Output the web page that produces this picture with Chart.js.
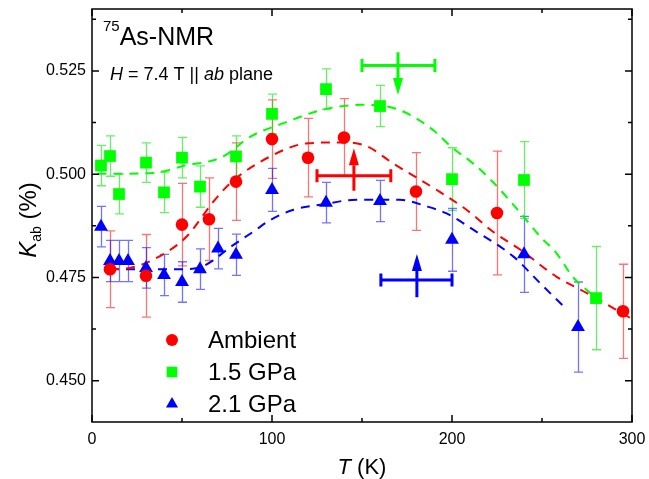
<!DOCTYPE html>
<html>
<head>
<meta charset="utf-8">
<script src="https://cdn.jsdelivr.net/npm/chart.js@4.4.0/dist/chart.umd.min.js"></script>
<style>
  html, body { margin: 0; padding: 0; background: #fff; }
  #wrap { width: 649px; height: 479px; }
</style>
</head>
<body>
<div id="wrap"><canvas id="kChart" width="649" height="479"></canvas></div>
<script>
// Ambient pressure
const ambT = [10, 30, 50, 65, 80, 100, 120, 140, 180, 225, 295];
const ambK = [0.4770, 0.4754, 0.4878, 0.4891, 0.4982, 0.5085, 0.5040, 0.5089, 0.4958, 0.4906, 0.4668];
const ambErr = [0.0093, 0.0100, 0.0100, 0.0100, 0.0094, 0.0095, 0.0095, 0.0094, 0.0094, 0.0150, 0.0114];

// 1.5 GPa
const p15T = [5, 10, 15, 30, 40, 50, 60, 80, 100, 130, 160, 200, 240, 280];
const p15K = [0.5021, 0.5044, 0.4952, 0.5028, 0.4956, 0.5040, 0.4970, 0.5043, 0.5146, 0.5206, 0.5165, 0.4988, 0.4986, 0.4700];
const p15Err = [0.0049, 0.0049, 0.0048, 0.0048, 0.0049, 0.0049, 0.0050, 0.0050, 0.0048, 0.0049, 0.0050, 0.0076, 0.0093, 0.0125];

// 2.1 GPa
const p21T = [5, 10, 15, 20, 30, 40, 50, 60, 70, 80, 100, 130, 160, 200, 240, 270];
const p21K = [0.4873, 0.4790, 0.4790, 0.4790, 0.4773, 0.4756, 0.4739, 0.4770, 0.4820, 0.4805, 0.4962, 0.4931, 0.4935, 0.4841, 0.4806, 0.4630];
const p21Err = [0.0049, 0.0050, 0.0050, 0.0050, 0.0049, 0.0050, 0.0049, 0.0049, 0.0049, 0.0050, 0.0052, 0.0049, 0.0050, 0.0076, 0.0092, 0.0109];

// dashed guide curves
const ambCurveT = [10, 21, 41, 53, 67, 77, 99, 120, 140, 153, 167, 190, 208, 223, 238, 258, 275, 299];
const ambCurveK = [0.4770, 0.4773, 0.4810, 0.4851, 0.4931, 0.4979, 0.5043, 0.5075, 0.5077, 0.5067, 0.5027, 0.4966, 0.4914, 0.4860, 0.4817, 0.4752, 0.4712, 0.4652];
const p15CurveT = [3, 30, 42, 53, 62, 73, 88, 106, 128, 150, 164, 177, 190, 200, 212, 223, 238, 249, 258, 267, 279];
const p15CurveK = [0.5001, 0.5002, 0.5009, 0.5023, 0.5028, 0.5043, 0.5091, 0.5123, 0.5156, 0.5168, 0.5164, 0.5143, 0.5105, 0.5065, 0.5025, 0.4980, 0.4906, 0.4849, 0.4809, 0.4752, 0.4704];
const p21CurveT = [10, 30, 51, 62, 78, 90, 99, 112, 127, 147, 171, 186, 197, 212, 234, 249, 262];
const p21CurveK = [0.4770, 0.4770, 0.4770, 0.4778, 0.4827, 0.4862, 0.4889, 0.4914, 0.4926, 0.4938, 0.4938, 0.4922, 0.4905, 0.4865, 0.4801, 0.4736, 0.4680];

// arrows marking the maxima (green, red, blue)
const arrowT = [170, 145.5, 180.5];
const arrowLo = [150, 125, 160.5];
const arrowHi = [190.5, 166, 200];
const arrowK = [0.5263, 0.4996, 0.4744];
const arrowBase = [0.5295, 0.4960, 0.4702];
const arrowTip = [0.5192, 0.5063, 0.4807];

// axis ticks
const xMajor = [0, 100, 200, 300];
const xMinor = [50, 150, 250];
const yMajor = [0.450, 0.475, 0.500, 0.525];
const yMinor = [0.4625, 0.4875, 0.5125, 0.5375];

const legendLabels = ["Ambient", "1.5 GPa", "2.1 GPa"];

const RED = "#ff0000", GREEN = "#00ff00", BLUE = "#0000ff";
const FONT = "'Liberation Sans', Arial, sans-serif";

const pts = (ts, ks) => ts.map((t, i) => ({ x: t, y: ks[i] }));

const series = [
  { t: ambT, k: ambK, err: ambErr, color: "rgba(255,0,0,0.55)" },
  { t: p15T, k: p15K, err: p15Err, color: "rgba(0,230,0,0.6)" },
  { t: p21T, k: p21K, err: p21Err, color: "rgba(0,0,255,0.55)" },
];

const errorBars = {
  id: "errorBars",
  beforeDatasetsDraw(chart) {
    const { ctx, scales: { x, y } } = chart;
    series.forEach(s => {
      ctx.save();
      ctx.strokeStyle = s.color;
      ctx.lineWidth = 1.3;
      s.t.forEach((t, i) => {
        const px = Math.round(x.getPixelForValue(t)) + 0.5;
        const top = y.getPixelForValue(s.k[i] + s.err[i]);
        const bot = y.getPixelForValue(s.k[i] - s.err[i]);
        ctx.beginPath();
        ctx.moveTo(px, top); ctx.lineTo(px, bot);
        ctx.moveTo(px - 4.5, top); ctx.lineTo(px + 4.5, top);
        ctx.moveTo(px - 4.5, bot); ctx.lineTo(px + 4.5, bot);
        ctx.stroke();
      });
      ctx.restore();
    });
  }
};

const arrows = {
  id: "arrows",
  afterDatasetsDraw(chart) {
    const { ctx, scales: { x, y } } = chart;
    const colors = [GREEN, RED, BLUE];
    arrowT.forEach((t, i) => {
      const cx = x.getPixelForValue(t);
      const x0 = x.getPixelForValue(arrowLo[i]);
      const x1 = x.getPixelForValue(arrowHi[i]);
      const cy = y.getPixelForValue(arrowK[i]);
      const yb = y.getPixelForValue(arrowBase[i]);
      const yt = y.getPixelForValue(arrowTip[i]);
      const dir = yt > yb ? 1 : -1;
      const head = 17;
      ctx.save();
      ctx.strokeStyle = colors[i];
      ctx.fillStyle = colors[i];
      ctx.lineWidth = 3;
      ctx.beginPath();
      ctx.moveTo(x0, cy); ctx.lineTo(x1, cy);
      ctx.moveTo(x0, cy - 6.5); ctx.lineTo(x0, cy + 6.5);
      ctx.moveTo(x1, cy - 6.5); ctx.lineTo(x1, cy + 6.5);
      ctx.moveTo(cx, yb); ctx.lineTo(cx, yt - dir * head);
      ctx.stroke();
      ctx.beginPath();
      ctx.moveTo(cx, yt);
      ctx.lineTo(cx - 5, yt - dir * head);
      ctx.lineTo(cx + 5, yt - dir * head);
      ctx.closePath();
      ctx.fill();
      ctx.restore();
    });
  }
};

const frame = {
  id: "frame",
  afterDraw(chart) {
    const { ctx, chartArea: a, scales: { x, y } } = chart;
    ctx.save();
    ctx.strokeStyle = "#000";
    ctx.lineWidth = 1.5;
    ctx.strokeRect(a.left, a.top, a.right - a.left, a.bottom - a.top);
    ctx.beginPath();
    const xt = (v, len) => {
      const px = x.getPixelForValue(v);
      ctx.moveTo(px, a.bottom); ctx.lineTo(px, a.bottom - len);
      ctx.moveTo(px, a.top); ctx.lineTo(px, a.top + len);
    };
    const yt = (v, len) => {
      const py = y.getPixelForValue(v);
      ctx.moveTo(a.left, py); ctx.lineTo(a.left + len, py);
      ctx.moveTo(a.right, py); ctx.lineTo(a.right - len, py);
    };
    xMajor.forEach(v => xt(v, 7));
    xMinor.forEach(v => xt(v, 4));
    yMajor.forEach(v => yt(v, 7));
    yMinor.forEach(v => yt(v, 4));
    ctx.stroke();
    ctx.restore();
  }
};

function drawMarker(ctx, style, r, px, py, color) {
  ctx.fillStyle = color;
  if (Chart.helpers && Chart.helpers.drawPoint) {
    Chart.helpers.drawPoint(ctx, { pointStyle: style, radius: r, rotation: 0, borderWidth: 0 }, px, py);
    return;
  }
  ctx.beginPath();
  if (style === "circle") ctx.arc(px, py, r, 0, Math.PI * 2);
  else if (style === "rect") { const s = r * Math.SQRT1_2; ctx.rect(px - s, py - s, 2 * s, 2 * s); }
  else { ctx.moveTo(px, py - r); ctx.lineTo(px + r * 0.866, py + r / 2); ctx.lineTo(px - r * 0.866, py + r / 2); ctx.closePath(); }
  ctx.fill();
}

function runs(ctx, parts, x0, yb) {
  let xx = x0;
  parts.forEach(p => {
    ctx.font = p.f;
    ctx.fillText(p.s, xx, yb + (p.dy || 0));
    xx += ctx.measureText(p.s).width;
  });
}

const labels = {
  id: "labels",
  afterDraw(chart) {
    const { ctx, chartArea: a } = chart;
    ctx.save();
    ctx.fillStyle = "#000";
    ctx.textBaseline = "alphabetic";
    ctx.textAlign = "left";
    // header text
    runs(ctx, [
      { s: "75", f: `15px ${FONT}`, dy: -14 },
      { s: "As-NMR", f: `25px ${FONT}` },
    ], 103, 45);
    runs(ctx, [
      { s: "H", f: `italic 18px ${FONT}` },
      { s: " = 7.4 T || ", f: `18px ${FONT}` },
      { s: "ab", f: `italic 18px ${FONT}` },
      { s: " plane", f: `18px ${FONT}` },
    ], 110, 80);

    // legend
    const styles = ["circle", "rect", "triangle"];
    const radii = [6, 7.5, 7];
    const cols = [RED, GREEN, BLUE];
    legendLabels.forEach((lab, i) => {
      const ly = 340 + i * 32;
      drawMarker(ctx, styles[i], radii[i], 172, ly, cols[i]);
      ctx.fillStyle = "#000";
      ctx.font = `24px ${FONT}`;
      ctx.textBaseline = "middle";
      ctx.fillText(lab, 208, ly + 1);
    });

    // x title
    ctx.textBaseline = "alphabetic";
    const cx = (a.left + a.right) / 2;
    ctx.font = `italic 22px ${FONT}`;
    const w1 = ctx.measureText("T").width;
    ctx.font = `22px ${FONT}`;
    const w2 = ctx.measureText(" (K)").width;
    runs(ctx, [
      { s: "T", f: `italic 22px ${FONT}` },
      { s: " (K)", f: `22px ${FONT}` },
    ], cx - (w1 + w2) / 2, 474);

    // y title
    ctx.translate(36, 220);
    ctx.rotate(-Math.PI / 2);
    ctx.font = `italic 24px ${FONT}`;
    const k1 = ctx.measureText("K").width;
    ctx.font = `14px ${FONT}`;
    const k2 = ctx.measureText("ab").width;
    ctx.font = `24px ${FONT}`;
    const k3 = ctx.measureText(" (%)").width;
    runs(ctx, [
      { s: "K", f: `italic 24px ${FONT}` },
      { s: "ab", f: `14px ${FONT}`, dy: 5 },
      { s: " (%)", f: `24px ${FONT}` },
    ], -(k1 + k2 + k3) / 2, 0);
    ctx.restore();
  }
};

const noPad = s => { s.paddingTop = 0; s.paddingBottom = 0; s.paddingLeft = 0; s.paddingRight = 0; };

const curveStyle = { showLine: true, pointRadius: 0, borderWidth: 2, borderDash: [9, 7], cubicInterpolationMode: "monotone", fill: false };

new Chart(document.getElementById("kChart"), {
  type: "scatter",
  data: {
    datasets: [
      { label: legendLabels[0], data: pts(ambT, ambK), pointStyle: "circle", pointRadius: 6.3, backgroundColor: RED, borderWidth: 0 },
      { label: legendLabels[1], data: pts(p15T, p15K), pointStyle: "rect", pointRadius: 8.3, backgroundColor: GREEN, borderWidth: 0 },
      { label: legendLabels[2], data: pts(p21T, p21K), pointStyle: "triangle", pointRadius: 8, backgroundColor: BLUE, borderWidth: 0 },
      { label: "amb fit", data: pts(ambCurveT, ambCurveK), borderColor: RED, ...curveStyle },
      { label: "1.5 fit", data: pts(p15CurveT, p15CurveK), borderColor: GREEN, ...curveStyle },
      { label: "2.1 fit", data: pts(p21CurveT, p21CurveK), borderColor: BLUE, ...curveStyle },
    ],
  },
  options: {
    responsive: false,
    animation: false,
    devicePixelRatio: 1,
    layout: { padding: { left: 0, right: 17, top: 9, bottom: 0 } },
    plugins: { legend: { display: false }, tooltip: { enabled: false } },
    scales: {
      x: {
        type: "linear", min: 0, max: 300,
        grid: { display: false, drawTicks: false },
        border: { display: false },
        afterBuildTicks: s => { s.ticks = xMajor.map(v => ({ value: v })); },
        afterFit: s => { s.height = 57; noPad(s); },
        ticks: { color: "#000", padding: 8, maxRotation: 0, font: { family: FONT, size: 16 } },
      },
      y: {
        type: "linear", min: 0.44, max: 0.54,
        grid: { display: false, drawTicks: false },
        border: { display: false },
        afterBuildTicks: s => { s.ticks = yMajor.map(v => ({ value: v })); },
        afterFit: s => { s.width = 92; noPad(s); },
        ticks: { color: "#000", padding: 6, font: { family: FONT, size: 16 }, callback: v => Number(v).toFixed(3) },
      },
    },
  },
  plugins: [errorBars, arrows, frame, labels],
});
</script>
</body>
</html>
